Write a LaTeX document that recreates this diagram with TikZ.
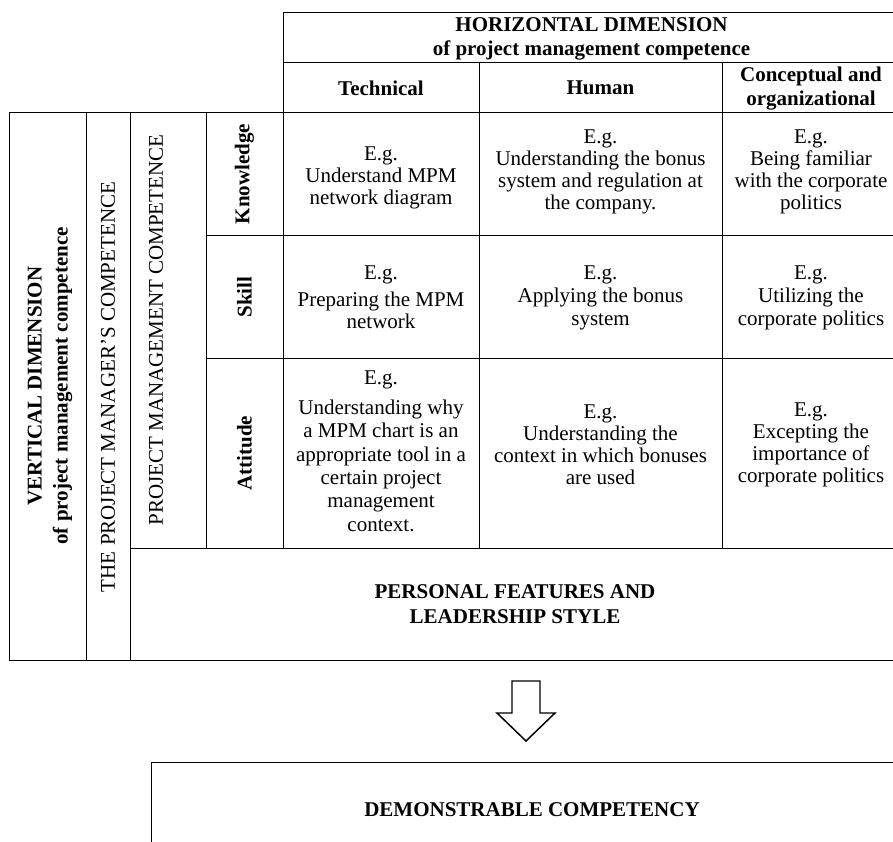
\documentclass[tikz,border=0pt]{standalone}
\usepackage{fontspec}
\setmainfont{Liberation Serif}

\tikzset{every picture/.style={line width=0.75pt}}
\tikzset{
	celltext/.style={align=center, inner sep=0pt, font=\fontsize{15.75}{16.5}\selectfont},
	headtext/.style={align=center, inner sep=0pt, font=\fontsize{15.75}{18}\selectfont\bfseries},
	sidetext/.style={rotate=90, align=center, inner sep=0pt, font=\fontsize{15.75}{19.5}\selectfont}}

\begin{document}
\begin{tikzpicture}[x=0.75pt,y=0.75pt,yscale=-1,xscale=1]
	\path[use as bounding box] (0,0) rectangle (893,842);
	\clip (0,0) rectangle (893,842);

	%Shape: Header box
	\draw  (283,113) -- (283,13) -- (900,13) (283,63) -- (900,63) ;
	%Straight Lines: grid rows
	\draw  (9,113) -- (900,113) (206,235) -- (900,235) (206,358) -- (900,358) (130,548) -- (900,548) (9,660) -- (900,660) ;
	%Straight Lines: grid columns
	\draw  (9,113) -- (9,660) (86,113) -- (86,660) (130,113) -- (130,660) (206,113) -- (206,548) (283,113) -- (283,548) ;
	\draw  (479,63) -- (479,548) (722,63) -- (722,548) (900,13) -- (900,660) ;

	%Shape: Block arrow
	\draw [line width=1.1]  (512,681) -- (540,681) -- (540,713) -- (555,713) -- (526,741) -- (497,713) -- (512,713) -- cycle ;
	%Shape: Rectangle
	\draw  (151,762) rectangle (913,860) ;

	% Text Node
	\node [headtext] (hdim) at (591.5,39) {HORIZONTAL DIMENSION\\of project management competence};
	% Text Node
	\node [headtext] (colTech) at (381,88) {Technical};
	% Text Node
	\node [headtext] (colHum) at (600.5,88) {Human};
	% Text Node
	\node [headtext] (colConc) at (811,89) {Conceptual and\\organizational};

	% Text Node
	\node [sidetext, font=\fontsize{15.75}{19.5}\selectfont\bfseries] (vdim) at (50,386) {VERTICAL DIMENSION\\of project management competence};
	% Text Node
	\node [sidetext] (tpmc) at (108,387) {THE PROJECT MANAGER’S COMPETENCE};
	% Text Node
	\node [sidetext] (pmc) at (156,330) {PROJECT MANAGEMENT COMPETENCE};
	% Text Node
	\node [sidetext, font=\fontsize{15.75}{18}\selectfont\bfseries] (rowKnow) at (244.5,174) {Knowledge};
	% Text Node
	\node [sidetext, font=\fontsize{15.75}{18}\selectfont\bfseries] (rowSkill) at (244.5,297) {Skill};
	% Text Node
	\node [sidetext, font=\fontsize{15.75}{18}\selectfont\bfseries] (rowAtt) at (244.5,453) {Attitude};

	% Text Node
	\node [celltext] (kTech) at (381,178) {E.g.\\Understand MPM\\network diagram};
	% Text Node
	\node [celltext] (kHum) at (600.5,172) {E.g.\\Understanding the bonus\\system and regulation at\\the company.};
	% Text Node
	\node [celltext] (kConc) at (811,172) {E.g.\\Being familiar\\with the corporate\\politics};
	% Text Node
	\node [celltext] (sTech) at (381,297) {E.g.\\[4pt]Preparing the MPM\\network};
	% Text Node
	\node [celltext, font=\fontsize{15.75}{17}\selectfont] (sHum) at (600.5,298) {E.g.\\Applying the bonus\\system};
	% Text Node
	\node [celltext, font=\fontsize{15.75}{17}\selectfont] (sConc) at (811,298) {E.g.\\Utilizing the\\corporate politics};
	% Text Node
	\node [celltext, font=\fontsize{15.75}{17.5}\selectfont] (aTech) at (381,451) {E.g.\\[5pt]Understanding why\\a MPM chart is an\\appropriate tool in a\\certain project\\management\\context.};
	% Text Node
	\node [celltext] (aHum) at (600.5,445) {E.g.\\Understanding the\\context in which bonuses\\are used};
	% Text Node
	\node [celltext] (aConc) at (811,445) {E.g.\\Excepting the\\importance of\\corporate politics};

	% Text Node
	\node [headtext, font=\fontsize{15.75}{19}\selectfont\bfseries] (pers) at (515,604) {PERSONAL FEATURES AND\\LEADERSHIP STYLE};
	% Text Node
	\node [headtext] (demo) at (532,810) {DEMONSTRABLE COMPETENCY};

\end{tikzpicture}
\end{document}
